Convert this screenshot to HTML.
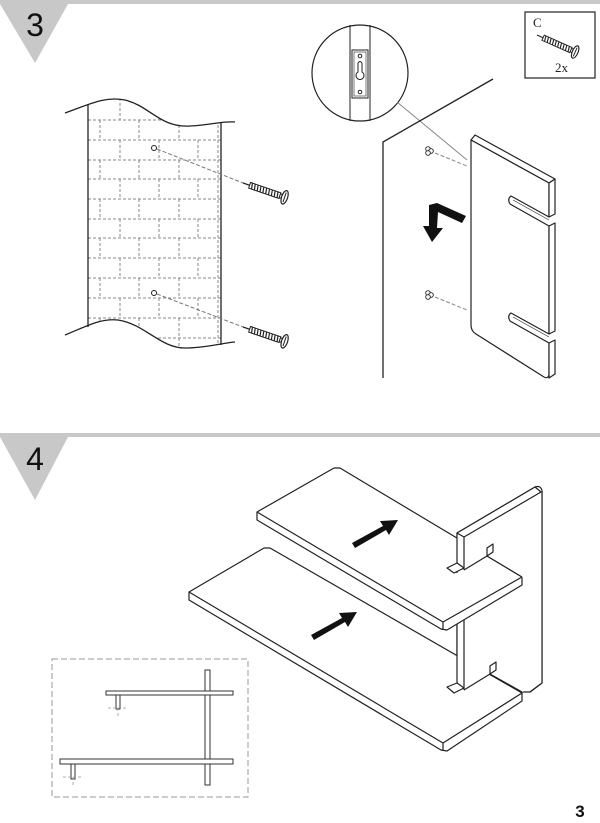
<!DOCTYPE html>
<html><head><meta charset="utf-8"><style>
html,body{margin:0;padding:0;background:#fff;}
svg{display:block;}
</style></head><body>
<svg width="600" height="823" viewBox="0 0 600 823" xmlns="http://www.w3.org/2000/svg">
<defs>
<g id="screw">
  <line x1="0" y1="0" x2="8" y2="0" stroke="#222" stroke-width="1.2"/>
  <rect x="7" y="-3" width="32" height="6" fill="#fff" stroke="#222" stroke-width="1"/>
  <path d="M9,-3 L10,3 M12,-3 L13,3 M15,-3 L16,3 M18,-3 L19,3 M21,-3 L22,3 M24,-3 L25,3 M27,-3 L28,3 M30,-3 L31,3 M33,-3 L34,3 M36,-3 L37,3" stroke="#222" stroke-width="1.2"/>
  <rect x="39" y="-2" width="3" height="4" fill="#fff" stroke="#222"/>
  <ellipse cx="44" cy="0" rx="3" ry="7" fill="#fff" stroke="#222" stroke-width="1.2"/>
  <line x1="44" y1="-5" x2="44" y2="5" stroke="#222"/>
</g>
<clipPath id="wall">
  <path d="M65,113 C90,104 105,96 125,100 C150,106 160,128 190,126 C210,125 222,121 235,122 L235,342 C222,343 205,348 185,348 C160,348 145,324 118,320 C100,318 85,327 65,335 Z"/>
</clipPath>
</defs>
<rect x="0" y="0" width="600" height="4" fill="#c8c8c8"/>
<polygon points="0,4 68,4 35,63" fill="#c8c8c8"/>
<text x="35" y="36" font-family="Liberation Sans, sans-serif" font-size="32" text-anchor="middle" fill="#111">3</text>

<g clip-path="url(#wall)" stroke="#888" stroke-width="1" stroke-dasharray="3,2" fill="none">
  <path d="M88,120H221 M88,140H221 M88,160H221 M88,179H221 M88,199H221 M88,219H221 M88,238H221 M88,258H221 M88,278H221 M88,298H221 M88,318H221 M88,338H221"/>
  <path d="M120,98V120 M159,98V120 M198,98V120 M100,120V140 M139,120V140 M179,120V140 M120,140V160 M159,140V160 M198,140V160 M100,160V179 M139,160V179 M179,160V179 M120,179V199 M159,179V199 M198,179V199 M100,199V219 M139,199V219 M179,199V219 M120,219V238 M159,219V238 M198,219V238 M100,238V258 M139,238V258 M179,238V258 M120,258V278 M159,258V278 M198,258V278 M100,278V298 M139,278V298 M179,278V298 M120,298V318 M159,298V318 M198,298V318 M100,318V350 M139,318V350 M179,318V350"/>
  <line x1="218" y1="110" x2="218" y2="350"/>
</g>
<path d="M65,113 C90,104 105,96 125,100 C150,106 160,128 190,126 C210,125 222,121 235,122" stroke="#222" stroke-width="1.3" fill="none"/>
<path d="M65,335 C85,327 100,318 118,320 C145,324 160,348 185,348 C205,348 222,343 235,342" stroke="#222" stroke-width="1.3" fill="none"/>
<line x1="88" y1="105" x2="88" y2="327" stroke="#222" stroke-width="1.3"/>
<line x1="221" y1="123" x2="221" y2="345" stroke="#222" stroke-width="1.3"/>
<circle cx="154" cy="148" r="2.5" fill="#fff" stroke="#222"/>
<circle cx="154" cy="293" r="2.5" fill="#fff" stroke="#222"/>
<line x1="157" y1="149" x2="243" y2="183" stroke="#777" stroke-dasharray="4,2"/>
<line x1="157" y1="294" x2="243" y2="327" stroke="#777" stroke-dasharray="4,2"/>
<use href="#screw" transform="translate(243,183) rotate(19)"/>
<use href="#screw" transform="translate(243,327) rotate(19)"/>

<circle cx="360" cy="73" r="48" fill="#fff" stroke="#222" stroke-width="1.2"/>
<line x1="350" y1="25" x2="350" y2="121" stroke="#222"/>
<line x1="370" y1="25" x2="370" y2="121" stroke="#222"/>
<rect x="352" y="50" width="16" height="48" fill="#fff" stroke="#222"/>
<rect x="354" y="52" width="12" height="44" fill="none" stroke="#222" stroke-width="0.6"/>
<circle cx="360" cy="56" r="1.8" fill="none" stroke="#222"/>
<circle cx="360" cy="92" r="1.8" fill="none" stroke="#222"/>
<path d="M358,63 Q360,60 362,63 L362,72 A4,4 0 1 1 358,72 Z" fill="none" stroke="#222"/>
<line x1="397" y1="102" x2="467" y2="160" stroke="#888"/>

<rect x="525" y="12" width="70" height="66" fill="#fff" stroke="#222" stroke-width="1.2"/>
<text x="533" y="27" font-family="Liberation Serif, serif" font-size="13" fill="#222">C</text>
<text x="555" y="72" font-family="Liberation Serif, serif" font-size="13" fill="#222">2x</text>
<use href="#screw" transform="translate(537,35) rotate(24) scale(0.95)"/>

<polyline points="493,79 383,142 383,378" fill="none" stroke="#222" stroke-width="1.3"/>
<g fill="#fff" stroke="#222" stroke-width="0.9">
<circle cx="428" cy="149" r="2.3"/><circle cx="431" cy="151" r="2.3"/><circle cx="428" cy="153" r="2.3"/>
<circle cx="428" cy="293" r="2.3"/><circle cx="431" cy="295" r="2.3"/><circle cx="428" cy="297" r="2.3"/>
</g>
<line x1="435" y1="153" x2="467" y2="166" stroke="#888" stroke-dasharray="4,2"/>
<line x1="435" y1="297" x2="467" y2="310" stroke="#888" stroke-dasharray="4,2"/>
<polygon points="429,205 437,203 466,216 462,223 438,212 437,228 443,228 432,242 423,226 429,226" fill="#111"/>

<g fill="#fff" stroke="#222" stroke-width="1.2" stroke-linejoin="round">
  <polygon points="471,140 475,135 555,179 549,183"/>
  <path d="M471,140 L549,183 L549,217 L511,196 Q507,199 510,204 L549,226 L549,334 L511,313 Q507,316 510,321 L549,343 L549,375 Q548,379 544,377 L476,334 Q471,331 471,325 Z"/>
  <polygon points="549,183 555,179 555,214 549,217"/>
  <polygon points="549,226 555,223 555,331 549,334"/>
  <polygon points="549,343 555,340 555,374 549,378"/>
  <line x1="513" y1="200" x2="549" y2="220" stroke-width="0.6"/>
  <line x1="513" y1="317" x2="549" y2="337" stroke-width="0.6"/>
</g>

<rect x="0" y="433" width="600" height="4" fill="#c8c8c8"/>
<polygon points="0,437 68,437 35,500" fill="#c8c8c8"/>
<text x="35" y="470" font-family="Liberation Sans, sans-serif" font-size="32" text-anchor="middle" fill="#111">4</text>

<g fill="#fff" stroke="#222" stroke-width="1.2" stroke-linejoin="round">
  <path d="M457,533 L535,487 Q541,485 542,491 L542,683 L530,692 L457,692 Z"/>
  <!-- lower shelf -->
  <polygon points="189,592 264,548 270,548 522,693 522,701 447,751 441,750 189,600"/>
  <polyline points="189,592 443,743 522,693" fill="none"/>
  <line x1="443" y1="743" x2="443" y2="751"/>
  <polygon points="457,615 542,570 542,683 522,692 490,674 464,690 457,692" stroke="none"/>
  <line x1="457" y1="615" x2="457" y2="692"/>
  <line x1="464" y1="615" x2="464" y2="690"/>
  <line x1="464" y1="690" x2="490" y2="674"/>
  <line x1="490" y1="674" x2="522" y2="692"/>
  <polygon points="447,687 457,683 464,688 454,693"/>
  <polygon points="490,674 496,670 496,662 490,666"/>
  <!-- upper shelf -->
  <polygon points="257,512 334,468 340,468 522,577 522,585 447,630 441,629 257,520"/>
  <polyline points="257,512 443,622 522,577" fill="none"/>
  <line x1="443" y1="622" x2="443" y2="630"/>
  <polygon points="457,533 535,487 542,491 542,589 487,556 464,570 457,573" stroke="none"/>
  <polygon points="457,533 535,487 541,492 464,537"/>
  <line x1="457" y1="533" x2="457" y2="573"/>
  <line x1="464" y1="537" x2="464" y2="570"/>
  <line x1="464" y1="570" x2="487" y2="556"/>
  <line x1="487" y1="556" x2="522" y2="577"/>
  <polygon points="447,568 457,563 464,568 454,573"/>
  <polygon points="487,556 493,552 493,544 487,548"/>
  <line x1="542" y1="491" x2="542" y2="683"/>
  <line x1="542" y1="683" x2="530" y2="692"/>
</g>
<g fill="#111">
  <polygon points="352,543 383,526 380,521 398,520 389,535 386,530 355,548"/>
  <polygon points="311,635 342,618 339,613 357,612 348,627 345,622 314,640"/>
</g>

<rect x="52" y="659" width="196" height="138" fill="none" stroke="#999" stroke-width="1" stroke-dasharray="6,3"/>
<g fill="#fff" stroke="#333" stroke-width="1">
  <rect x="205" y="670" width="5" height="115"/>
  <rect x="106" y="691" width="127" height="4"/>
  <rect x="60" y="759" width="173" height="5"/>
  <rect x="116" y="695" width="4" height="14"/>
  <rect x="71" y="764" width="4" height="15"/>
</g>
<g stroke="#999" stroke-width="0.8" stroke-dasharray="3,2">
  <line x1="108" y1="708" x2="128" y2="708"/><line x1="118" y1="708" x2="118" y2="716"/>
  <line x1="63" y1="777" x2="83" y2="777"/><line x1="73" y1="777" x2="73" y2="785"/>
</g>

<text x="580" y="817" font-family="Liberation Sans, sans-serif" font-size="17" font-weight="bold" text-anchor="middle" fill="#111">3</text>
</svg>
</body></html>
